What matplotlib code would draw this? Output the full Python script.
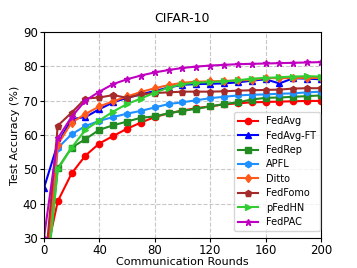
import numpy as np
import matplotlib
matplotlib.use('Agg')
import matplotlib.pyplot as plt

# Rounds and test accuracy per method
rounds = list(range(0, 201, 10))

fedavg = [22, 40.7, 48.8, 54.0, 57.5, 59.7, 61.8, 63.6, 65.2, 66.3, 67.1,
          67.8, 68.3, 68.9, 69.2, 69.5, 69.6, 69.7, 69.8, 69.9, 69.9]
fedavg_ft = [44.5, 57.5, 64.6, 65.2, 67.5, 69.5, 70.8, 71.8, 72.8, 73.8, 74.6,
             74.8, 74.9, 75.0, 75.3, 75.8, 76.2, 75.0, 76.5, 76.4, 76.2]
fedrep = [12, 50.3, 56.3, 58.8, 61.5, 62.8, 63.9, 65.0, 65.4, 66.3, 67.0,
          67.6, 68.3, 69.0, 69.5, 70.3, 70.8, 70.9, 71.1, 71.3, 71.5]
apfl = [12, 56.2, 60.2, 62.6, 64.1, 65.2, 66.2, 67.0, 68.0, 69.0, 69.5,
        70.1, 70.7, 71.1, 71.5, 71.7, 71.8, 72.0, 72.1, 72.4, 72.6]
ditto = [14, 57.2, 63.6, 66.1, 68.3, 69.8, 71.2, 72.5, 73.6, 74.5, 75.2,
         75.5, 75.6, 75.7, 75.9, 76.0, 76.6, 76.5, 76.6, 76.6, 76.6]
fedfomo = [18, 62.7, 66.5, 70.6, 70.9, 71.6, 70.8, 71.8, 72.2, 72.4, 72.6,
           72.6, 72.6, 72.7, 72.9, 73.0, 73.1, 73.2, 73.5, 73.6, 73.6]
pfedhn = [10, 50.0, 56.3, 61.5, 64.2, 66.8, 69.0, 70.6, 72.3, 73.8, 74.8,
          75.2, 75.4, 75.6, 75.9, 76.4, 76.6, 76.8, 77.0, 77.1, 77.0]
fedpac = [30, 59.0, 65.3, 70.0, 72.6, 74.8, 76.2, 77.3, 78.2, 78.9, 79.5,
          79.9, 80.2, 80.4, 80.6, 80.7, 80.8, 80.9, 81.0, 81.1, 81.2]

series = [
    ('FedAvg', fedavg, '#ff0000', 'o'),
    ('FedAvg-FT', fedavg_ft, '#0000ff', '^'),
    ('FedRep', fedrep, '#228b22', 's'),
    ('APFL', apfl, '#1e90ff', 'h'),
    ('Ditto', ditto, '#ff5a1a', 'd'),
    ('FedFomo', fedfomo, '#a52a2a', 'p'),
    ('pFedHN', pfedhn, '#32cd32', '>'),
    ('FedPAC', fedpac, '#c000c0', '*'),
]

fig = plt.figure(figsize=(3.57, 2.68), dpi=100)
ax = fig.add_axes([0.123, 0.112, 0.776, 0.769])

for name, vals, color, marker in series:
    ax.plot(rounds, vals, color=color, marker=marker, markersize=4.5,
            linewidth=1.5, label=name)

ax.set_xlim(0, 200)
ax.set_ylim(30, 90)
ax.set_xticks(range(0, 201, 40))
ax.set_yticks(range(30, 91, 10))
ax.tick_params(labelsize=8.5, length=3, pad=1.5)
ax.grid(True, linestyle='--', color='#c8c8c8', linewidth=0.8)
ax.set_xlabel('Communication Rounds', fontsize=8, labelpad=0)
ax.set_ylabel('Test Accuracy (%)', fontsize=8, labelpad=2)
ax.set_title('CIFAR-10', fontsize=9, pad=7)
ax.legend(loc='lower right', bbox_to_anchor=(1.0, 0.03), fontsize=7,
          labelspacing=0.45, handlelength=2.1, handletextpad=0.8,
          borderpad=0.4, borderaxespad=0.1, fancybox=True)

fig.savefig('out.png', dpi=100)
